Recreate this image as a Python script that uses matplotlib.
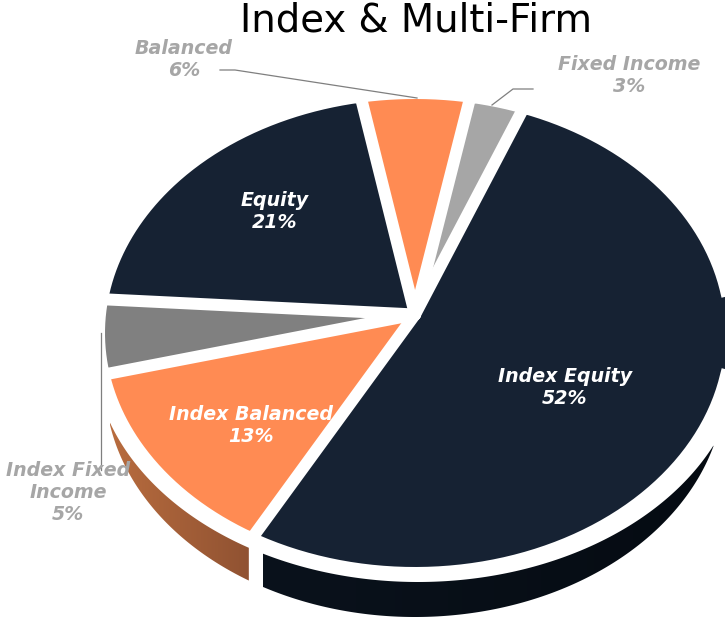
import numpy as np
import matplotlib
matplotlib.use('Agg')
import matplotlib.pyplot as plt

# Chart data
labels = ['Index Equity', 'Index Balanced', 'Index Fixed\nIncome', 'Equity', 'Balanced', 'Fixed Income']
values = [52, 13, 5, 21, 6, 3]
colors = ['#162233', '#FF8B53', '#808080', '#162233', '#FF8B53', '#A6A6A6']
text_colors = ['white', 'white', '#A6A6A6', 'white', '#A6A6A6', '#A6A6A6']
label_pos = [(565, 387), (251, 425), (68, 492), (275, 211), (184, 60), (629, 75)]

# Pie geometry, in pixels of the figure
cx, cy = 415, 333
rx, ry = 310, 234
tilt = 0.077
start_angle = 21.7
gap = 12
lw_gap = gap * 72 / 100


def project(phi):
    # circle seen in perspective: the centre of the pie sits above the centre of the ellipse
    x, y = np.sin(phi), np.cos(phi)
    d = 1 + tilt * y
    return x * np.sqrt(1 - tilt ** 2) / d, (y + tilt) / d


fig = plt.figure(figsize=(7.25, 6.19), dpi=100)
ax = fig.add_axes([0, 0, 1, 1])

edges = start_angle + np.cumsum([0] + values) * 3.6


# Side of the cake: only the two front slices show it
def side(lo, hi, c_left, c_right):
    xs = np.linspace(lo, hi, 400)
    low = cy + 50 + ry * np.sqrt(np.clip(1 - ((xs - cx) / rx) ** 2, 0, 1))
    top = cy + 15 + ry * np.sqrt(np.clip(1 - ((xs - cx - 3) / 325) ** 2, 0, 1))
    keep = low > top
    poly = ax.fill_between(xs, top, low, where=keep, color='none', lw=0)
    grad = np.linspace(0, 1, 256).reshape(1, -1, 1)
    rgb = np.array(matplotlib.colors.to_rgb(c_left)) * (1 - grad) + np.array(matplotlib.colors.to_rgb(c_right)) * grad
    im = ax.imshow(rgb, extent=(lo, hi, 619, 0), aspect='auto', zorder=1)
    im.set_clip_path(poly.get_paths()[0], transform=ax.transData)


front = cx + rx * project(np.radians(edges[1]))[0]
left = cx + rx * project(np.radians(edges[2]))[0]
side(left, front - 6, '#B86C3E', '#905232')
side(front + 8, 725, '#0A121C', '#050B12')

# Top of the cake
R_x, R_y = rx + gap / 2, ry + gap / 2
apex_y = cy - R_y * tilt
for i, val in enumerate(values):
    phi = np.radians(np.linspace(edges[i], edges[i + 1], 200))
    x, y = project(phi)
    px = np.concatenate([[cx], cx + R_x * x, [cx]])
    py = np.concatenate([[apex_y], cy - R_y * y, [apex_y]])
    ax.fill(px, py, facecolor=colors[i], edgecolor='none', zorder=2)
    # white outer rim
    ax.plot(cx + R_x * x, cy - R_y * y, color='white', lw=lw_gap, zorder=2.5)
    # white spoke between slices
    ax.plot([cx, px[1]], [apex_y, py[1]], color='white', lw=lw_gap, solid_capstyle='round', zorder=2.5)

# Leader lines
ax.plot([220, 235, 417], [70, 70, 98], color='#7F7F7F', lw=0.9, zorder=3)
ax.plot([533, 513, 492], [89, 89, 105], color='#7F7F7F', lw=0.9, zorder=3)
ax.plot([101, 101], [333, 470], color='#7F7F7F', lw=0.9, zorder=3)

# Labels
for i, val in enumerate(values):
    ax.text(label_pos[i][0], label_pos[i][1], f'{labels[i]}\n{val}%', color=text_colors[i], fontsize=13.7,
            fontweight='bold', fontstyle='italic', ha='center', va='center', linespacing=1.2, zorder=4)

ax.text(416, 21, 'Index & Multi-Firm', fontsize=27.8, color='black', ha='center', va='center', zorder=4)

ax.set_xlim(0, 725)
ax.set_ylim(619, 0)
ax.axis('off')

plt.savefig('out.png', dpi=100)
